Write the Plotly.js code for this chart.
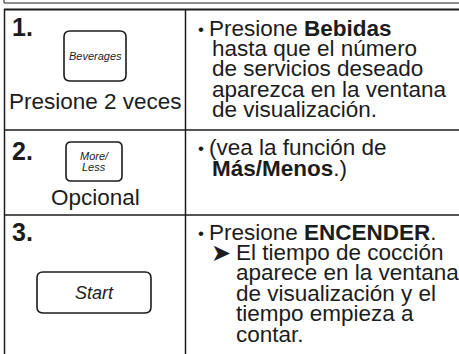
<!DOCTYPE html>
<html>
<head>
<meta charset="utf-8">
<script src="https://cdn.plot.ly/plotly-3.0.1.min.js"></script>
<style>
html,body{margin:0;padding:0;background:#fff;}
#chart{width:459px;height:354px;}
</style>
</head>
<body>
<div id="chart"></div>
<script>
// ---- content (data) ----
const stepNumbers = ["1.", "2.", "3."];
const buttonLabels = [["Beverages"], ["More/", "Less"], ["Start"]];
const stepCaptions = ["Presione 2 veces", "Opcional", ""];
const bulletMark = "•";
const arrowMark = "➤";
const instructions1 = ["Presione <b>Bebidas</b>", "hasta que el número", "de servicios deseado", "aparezca en la ventana", "de visualización."];
const instructions2 = ["(vea la función de", "<b>Más/Menos</b>.)"];
const instructions3 = ["Presione <b>ENCENDER</b>.", "El tiempo de cocción", "aparece en la ventana", "de visualización y el", "tiempo empieza a", "contar."];

// ---- layout geometry ----
const W = 459, H = 354;
const ink = "#1c1c1c";
const FONT = "Liberation Sans, Arial, Helvetica, sans-serif";

function roundRect(x0, y0, x1, y1, r) {
  return `M${x0+r},${y0} L${x1-r},${y0} Q${x1},${y0} ${x1},${y0+r} L${x1},${y1-r} Q${x1},${y1} ${x1-r},${y1} L${x0+r},${y1} Q${x0},${y1} ${x0},${y1-r} L${x0},${y0+r} Q${x0},${y0} ${x0+r},${y0} Z`;
}
function line(x0, y0, x1, y1, w) {
  return {type: "line", xref: "x", yref: "y", x0, y0, x1, y1, line: {color: ink, width: w}};
}

const shapes = [
  line(4, 3, W, 3, 1),
  line(4, 0, 4, 3, 1),
  line(4, 9.5, W, 9.5, 2),
  line(4.5, 9, 4.5, H, 1.5),
  line(185.5, 9, 185.5, H, 1.5),
  line(4, 130, W, 130, 1.5),
  line(4, 215, W, 215, 1.5)
];
const buttons = [[64, 31, 126, 81, 6], [66, 142, 122, 181, 5], [37, 272, 151, 313, 6]];
buttons.forEach(b => shapes.push({type: "path", xref: "x", yref: "y", path: roundRect(b[0], b[1], b[2], b[3], b[4]),
  line: {color: ink, width: 1.6}, fillcolor: "rgba(0,0,0,0)"}));

const ann = [];
function txt(text, x, y, size, xanchor, family) {
  ann.push({text, x, y, xref: "x", yref: "y", xanchor: xanchor || "left", yanchor: "middle",
    showarrow: false, font: {family: family || FONT, size, color: ink}, borderpad: 0});
}
// step numbers
const numY = [27, 151, 232];
stepNumbers.forEach((s, i) => txt("<b>" + s + "</b>", 11, numY[i], 25));
// button labels
const lblPos = [[[95, 56]], [[94, 156], [94, 167]], [[94, 292.5]]];
const lblSize = [11, 11, 18];
buttonLabels.forEach((arr, i) => arr.forEach((t, j) =>
  txt("<i>" + t + "</i>", lblPos[i][j][0], lblPos[i][j][1], lblSize[i], "center")));
// captions
const capY = [101, 197];
stepCaptions.forEach((t, i) => { if (t) txt(t, 95.5, capY[i], 22.5, "center"); });
// instructions
const pitch = 20.4;
const bulletY = [29, 148, 233];
bulletY.forEach(y => txt(bulletMark, 197, y, 17));
instructions1.forEach((t, i) => txt(t, i === 0 ? 208 : 211, 28 + i * pitch, 22.5));
instructions2.forEach((t, i) => txt(t, i === 0 ? 208 : 211, 147 + i * 21, 22.5));
txt(arrowMark, 210, 252.5, 24, "left", "DejaVu Sans");
instructions3.forEach((t, i) => txt(t, i === 0 ? 208 : 235, i === 0 ? 232 : 252.5 + (i - 1) * pitch, 22.5));

const layout = {
  width: W, height: H,
  margin: {l: 0, r: 0, t: 0, b: 0, pad: 0},
  paper_bgcolor: "#fff", plot_bgcolor: "#fff",
  xaxis: {range: [0, W], visible: false, fixedrange: true},
  yaxis: {range: [H, 0], visible: false, fixedrange: true},
  shapes, annotations: ann, showlegend: false
};
Plotly.newPlot("chart", [{x: [], y: [], type: "scatter", hoverinfo: "skip"}], layout, {staticPlot: true, displayModeBar: false});
</script>
</body>
</html>
